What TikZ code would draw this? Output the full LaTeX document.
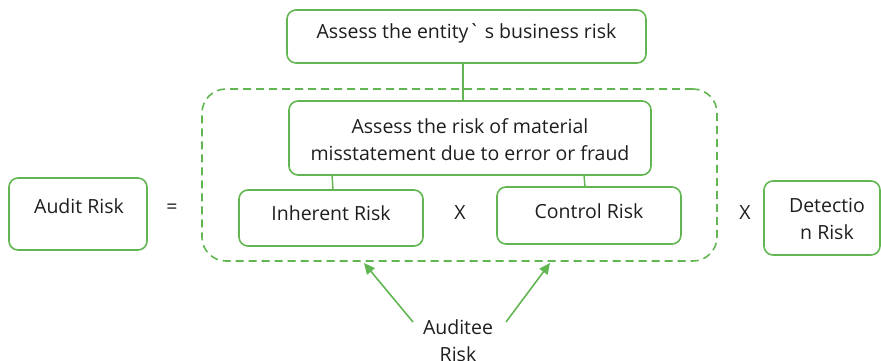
\documentclass[tikz,border=0pt]{standalone}
\usepackage{fontspec}
\setmainfont{Open Sans}[Ligatures=TeXOff]
\usetikzlibrary{arrows.meta}
\definecolor{grn}{RGB}{98,182,82}
\definecolor{txt}{RGB}{30,30,30}
\tikzset{
  box/.style={draw=grn, line width=1.6pt, rounded corners=9pt, inner sep=0pt},
  lbl/.style={text=txt, font=\fontsize{19.5}{27}\selectfont, inner sep=0pt, align=center},
  conn/.style={draw=grn, line width=1.4pt},
  arr/.style={draw=grn, line width=1.6pt, -{Triangle[length=11pt,width=10pt]}},
}
\begin{document}
\begin{tikzpicture}[x=1pt,y=1pt]
\useasboundingbox (0,0) rectangle (881,-360);
% dashed group
\node[draw=grn, line width=1.6pt, dash pattern=on 8pt off 5pt, rounded corners=24pt,
  minimum width=515pt, minimum height=172pt, inner sep=0pt] (grp) at (459.5,-175) {};
% boxes
\node[box, minimum width=359pt, minimum height=53pt] (biz) at (466.5,-36.5) {};
\node[lbl] (bizt) at (466.5,-33) {Assess the entity\symbol{96} s business risk};
\node[box, minimum width=362pt, minimum height=74pt] (rmm) at (470,-138) {};
\node[lbl] (rmmt) at (470,-139.5) {Assess the risk of material\\misstatement due to error or fraud};
\node[box, minimum width=184pt, minimum height=56pt] (ir) at (331,-218) {};
\node[lbl] (irt) at (331,-213) {Inherent Risk};
\node[box, minimum width=184pt, minimum height=57pt] (cr) at (589,-215.5) {};
\node[lbl] (crt) at (589,-211) {Control Risk};
\node[box, minimum width=138pt, minimum height=72pt] (ar) at (78,-214) {};
\node[lbl] (art) at (79,-206) {Audit Risk};
\node[box, minimum width=116pt, minimum height=74pt] (dr) at (822,-218) {};
\node[lbl] (drt) at (827,-219) {Detectio\\n Risk};
% operators
\node[lbl] (eq) at (172,-209) {=};
\node[lbl] (x1) at (460,-213) {X};
\node[lbl] (x2) at (745,-213) {X};
% auditee risk
\node[lbl] (aud) at (458,-341) {Auditee\\Risk};
% connectors
\draw[conn] (463,-63) -- (463,-101);
\draw[conn] (332,-175) -- (333,-190);
\draw[conn] (584,-175) -- (585,-187);
\coordinate (a1s) at (413,-322);
\coordinate (a1e) at (364,-263);
\coordinate (a2s) at (506,-322);
\coordinate (a2e) at (550,-263);
\draw[arr] (a1s) -- (a1e);
\draw[arr] (a2s) -- (a2e);
\end{tikzpicture}
\end{document}
